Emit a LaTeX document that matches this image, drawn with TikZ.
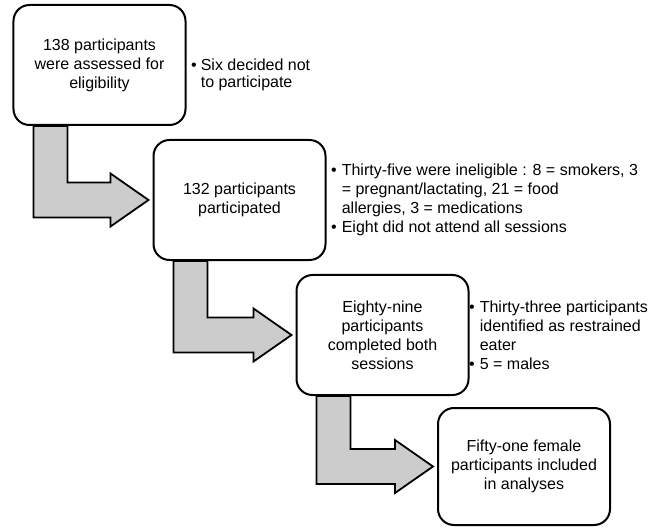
\documentclass[tikz,border=0pt]{standalone}
\usepackage{fontspec}
\setmainfont{Liberation Sans}
\usetikzlibrary{calc,backgrounds}
\newcommand\flowarrow[2]{%
  \draw[flowarrow] let \p1=(#1.south west), \p2=(#2.west) in
    (\x1+21bp,\y1) -- (\x1+21bp,\y2-17.5bp) -- (\x2-42bp,\y2-17.5bp)
    -- (\x2-42bp,\y2-26.5bp) -- (\x2-4bp,\y2) -- (\x2-42bp,\y2+26.5bp)
    -- (\x2-42bp,\y2+17.5bp) -- (\x1+55bp,\y2+17.5bp) -- (\x1+55bp,\y1) -- cycle;}
\begin{document}
\begin{tikzpicture}[x=1bp,y=-1bp,
  stepbox/.style={draw=black, line width=2bp, rounded corners=16bp, fill=white,
    minimum width=172bp, minimum height=120bp, align=center, inner sep=2bp,
    font=\fontsize{16bp}{19bp}\selectfont},
  notes/.style={anchor=base west, inner sep=0pt, align=left,
    font=\fontsize{16bp}{19bp}\selectfont},
  flowarrow/.style={draw=black, line width=1.8bp, fill=black!20, line join=miter}]
\useasboundingbox (0,0) rectangle (665,528);

\node[stepbox] (b1) at (99.5,65) {138 participants\\were assessed for\\eligibility};
\node[stepbox] (b2) at (239.5,200) {132 participants\\participated};
\node[stepbox] (b3) at (382.5,335) {Eighty-nine\\participants\\completed both\\sessions};
\node[stepbox, minimum height=117bp] (b4) at (524,466.5) {Fifty-one female\\participants included\\in analyses};

\node[notes, font=\fontsize{16bp}{17bp}\selectfont] (n1) at (191,70.5)
  {\begin{tabular}[t]{@{}l@{\hspace{4bp}}l@{}}\textbullet & Six decided not\\ & to participate\end{tabular}};
\node[notes] (n2) at (331,175.5)
  {\begin{tabular}[t]{@{}l@{\hspace{5bp}}l@{}}\textbullet & Thirty-five were ineligible : 8 = smokers, 3\\
   & = pregnant/lactating, 21 = food\\ & allergies, 3 = medications\\
   \textbullet & Eight did not attend all sessions\end{tabular}};
\node[notes] (n3) at (469,312)
  {\begin{tabular}[t]{@{}l@{\hspace{5bp}}l@{}}\textbullet & Thirty-three participants\\
   & identified as restrained\\ & eater\\ \textbullet & 5 = males\end{tabular}};

\begin{scope}[on background layer]
  \flowarrow{b1}{b2}
  \flowarrow{b2}{b3}
  \flowarrow{b3}{b4}
\end{scope}
\end{tikzpicture}
\end{document}
